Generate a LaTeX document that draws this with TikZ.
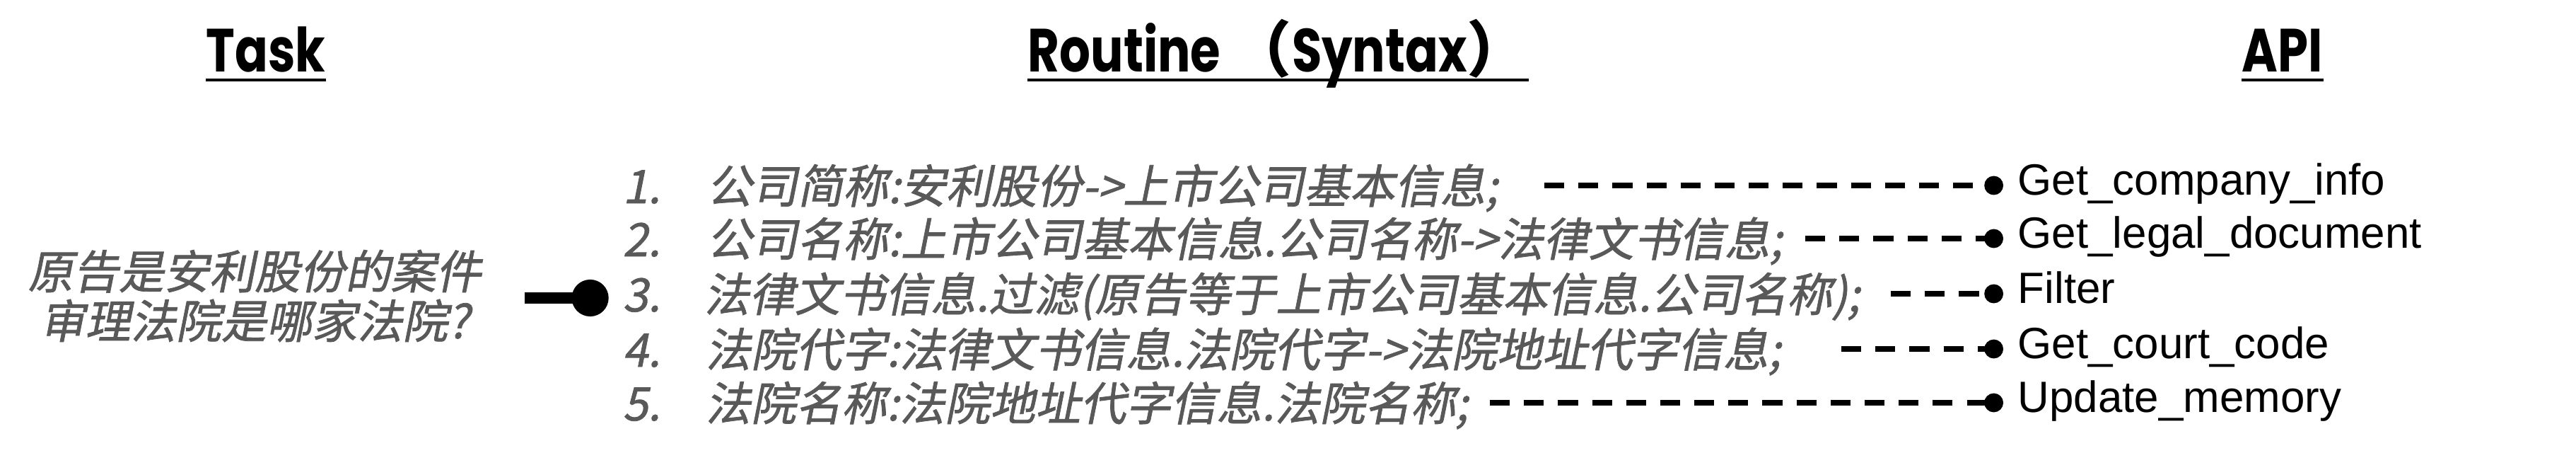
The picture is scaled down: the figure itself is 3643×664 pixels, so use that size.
\documentclass[tikz,border=0pt]{standalone}
\usepackage{fontspec}
\usetikzlibrary{arrows.meta}
\setmainfont{Liberation Sans}
\newfontfamily\headfont{Poppins}[FakeStretch=0.8]
\newfontfamily\cjkhead{Noto Sans CJK SC}
\newfontfamily\cjkit{Noto Sans CJK SC}[FakeSlant=0.2, FakeStretch=0.985, FakeBold=1.2]
\newfontfamily\apifont{Liberation Sans}
\definecolor{txtgray}{HTML}{595959}
\begin{document}
\begin{tikzpicture}[x=0.01cm,y=-0.01cm,
  head/.style={font=\headfont\bfseries\fontsize{24.5pt}{28pt}\selectfont, inner sep=0pt, anchor=base},
  uline/.style={line width=1.2pt},
  cjk/.style={font=\cjkit\fontsize{18.5pt}{19.9pt}\selectfont, text=txtgray, inner sep=0pt},
  rowtext/.style={cjk, anchor=base west},
  api/.style={font=\apifont\fontsize{17.6pt}{20pt}\selectfont, inner sep=0pt, anchor=base west},
  dashconn/.style={line width=2pt, dash pattern=on 8pt off 5.7pt, shorten >=5.7pt, -{Circle[length=7.6pt,width=7.6pt]}},
  thickconn/.style={line width=4.3pt, -{Circle[length=14.8pt,width=14.8pt]}}
]
\useasboundingbox (0,0) rectangle (3643,664);

% headings
\node[head] (task) at (376,102) {Task};
\node[head, anchor=base west] (routine) at (1453,102) {Routine {\cjkhead\bfseries （}Syntax{\cjkhead\bfseries ）}};
\node[head] (api) at (3228,102) {API};
\foreach \n in {task,routine,api}
  \draw[uline] ([yshift=-3.1pt]\n.base west) -- ([yshift=-3.1pt]\n.base east);

% task question
\node[cjk, align=center] (q) at (360,418) {原告是安利股份的案件\\审理法院是哪家法院?};

% routine rows
\foreach \i/\y in {1/262,2/337,3/415,4/493,5/569}
  \node[rowtext] (n\i) at (880,\y+25) {\i.};
\node[rowtext] (r1) at (999,287) {公司简称:安利股份->上市公司基本信息;};
\node[rowtext] (r2) at (999,362) {公司名称:上市公司基本信息.公司名称->法律文书信息;};
\node[rowtext] (r3) at (995,440) {法律文书信息.过滤(原告等于上市公司基本信息.公司名称);};
\node[rowtext] (r4) at (997,518) {法院代字:法律文书信息.法院代字->法院地址代字信息;};
\node[rowtext] (r5) at (997,594) {法院名称:法院地址代字信息.法院名称;};

% API names
\node[api] (a1) at (2853,275) {Get\_company\_info};
\node[api] (a2) at (2853,350) {Get\_legal\_document};
\node[api] (a3) at (2853,428) {Filter};
\node[api] (a4) at (2853,506) {Get\_court\_code};
\node[api] (a5) at (2853,582) {Update\_memory};

% connectors
\coordinate (s1) at (2184,262);
\coordinate (s2) at (2553,337);
\coordinate (s3) at (2674,415);
\coordinate (s4) at (2604,493);
\coordinate (s5) at (2107,569);
\foreach \i in {1,...,5}
  \draw[dashconn] (s\i) -- (s\i -| a\i.west);

\coordinate (qs) at (742,421);
\draw[thickconn] (qs) -- ([xshift=-5.5pt]n3.west |- qs);
\end{tikzpicture}
\end{document}
